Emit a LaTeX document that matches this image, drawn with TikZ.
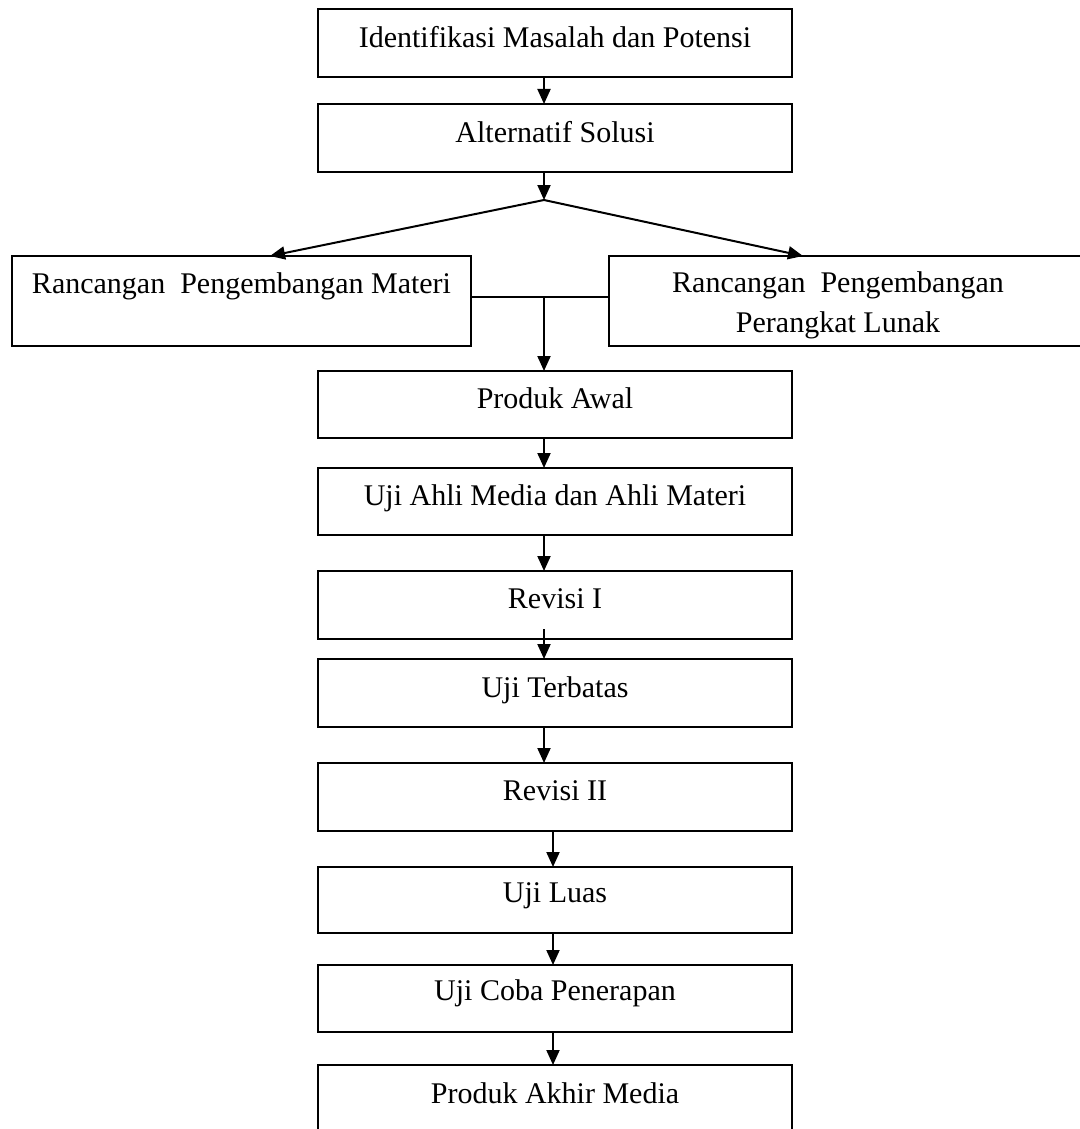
\documentclass[tikz,border=0pt]{standalone}
\usepackage{fontspec}
\setmainfont{Liberation Serif}
\usetikzlibrary{arrows.meta,calc}
\begin{document}
\begin{tikzpicture}[x=0.5pt,y=-0.5pt,
  box/.style={draw,line width=1pt,rectangle,inner sep=0pt,outer sep=0pt,minimum width=237pt},
  lbl/.style={anchor=base,inner sep=0pt,font=\fontsize{15pt}{20pt}\selectfont},
  arr/.style={line width=1pt,-{Triangle[length=7.5pt,width=6.5pt]}},
  ln/.style={line width=1pt}]
\useasboundingbox (0,0) rectangle (1080,1129);
\clip (0,0) rectangle (1080,1129);
\fill[white] (0,0) rectangle (1080,1129);

% boxes
\node[box,minimum height=34pt] (b1) at (555,43) {};
\node[box,minimum height=34pt] (b2) at (555,138) {};
\node[box,minimum width=229.5pt,minimum height=45pt] (mat) at (241.5,301) {};
\node[box,minimum width=245.5pt,minimum height=45pt] (soft) at (854.5,301) {};
\node[box,minimum height=33.5pt] (b3) at (555,404.5) {};
\node[box,minimum height=33.5pt] (b4) at (555,501.5) {};
\node[box,minimum height=34pt] (b5) at (555,605) {};
\node[box,minimum height=34pt] (b6) at (555,693) {};
\node[box,minimum height=34pt] (b7) at (555,797) {};
\node[box,minimum height=33pt] (b8) at (555,900) {};
\node[box,minimum height=33.5pt] (b9) at (555,998.5) {};
\node[box,minimum height=37.5pt] (b10) at (555,1102.5) {};

% labels
\node[lbl] (t1) at (555,48) {Identifikasi Masalah dan Potensi};
\node[lbl] (t2) at (555,142) {Alternatif Solusi};
\node[lbl] (tm) at (241.5,293) {Rancangan\ \ Pengembangan Materi};
\node[lbl] (ts1) at (838,292) {Rancangan\ \ Pengembangan};
\node[lbl] (ts2) at (838,332) {Perangkat Lunak};
\node[lbl] (t3) at (555,408) {Produk Awal};
\node[lbl] (t4) at (555,505) {Uji Ahli Media dan Ahli Materi};
\node[lbl] (t5) at (555,608) {Revisi I};
\node[lbl] (t6) at (555,697) {Uji Terbatas};
\node[lbl] (t7) at (555,800) {Revisi II};
\node[lbl] (t8) at (555,902) {Uji Luas};
\node[lbl] (t9) at (555,1000) {Uji Coba Penerapan};
\node[lbl] (t10) at (555,1103) {Produk Akhir Media};

% reference columns and junctions
\coordinate (ax) at (544,0);
\coordinate (bx) at (553,0);
\coordinate (lx) at (270,0);
\coordinate (rx) at (803,0);
\coordinate (fork) at (544,200);
\coordinate (mid) at (544,297);

% connectors
\draw[arr] (b1.south -| ax) -- (b2.north -| ax);
\draw[arr] (b2.south -| ax) -- (fork);
\draw[arr] (fork) -- (mat.north -| lx);
\draw[arr] (fork) -- (soft.north -| rx);
\draw[ln] (mat.east |- mid) -- (soft.west |- mid);
\draw[arr] (mid) -- (b3.north -| ax);
\draw[arr] (b3.south -| ax) -- (b4.north -| ax);
\draw[arr] (b4.south -| ax) -- (b5.north -| ax);
\draw[arr] ($(b5.south -| ax)+(0,-10)$) -- (b6.north -| ax);
\draw[arr] (b6.south -| ax) -- (b7.north -| ax);
\draw[arr] (b7.south -| bx) -- (b8.north -| bx);
\draw[arr] (b8.south -| bx) -- (b9.north -| bx);
\draw[arr] (b9.south -| bx) -- (b10.north -| bx);
\end{tikzpicture}
\end{document}
